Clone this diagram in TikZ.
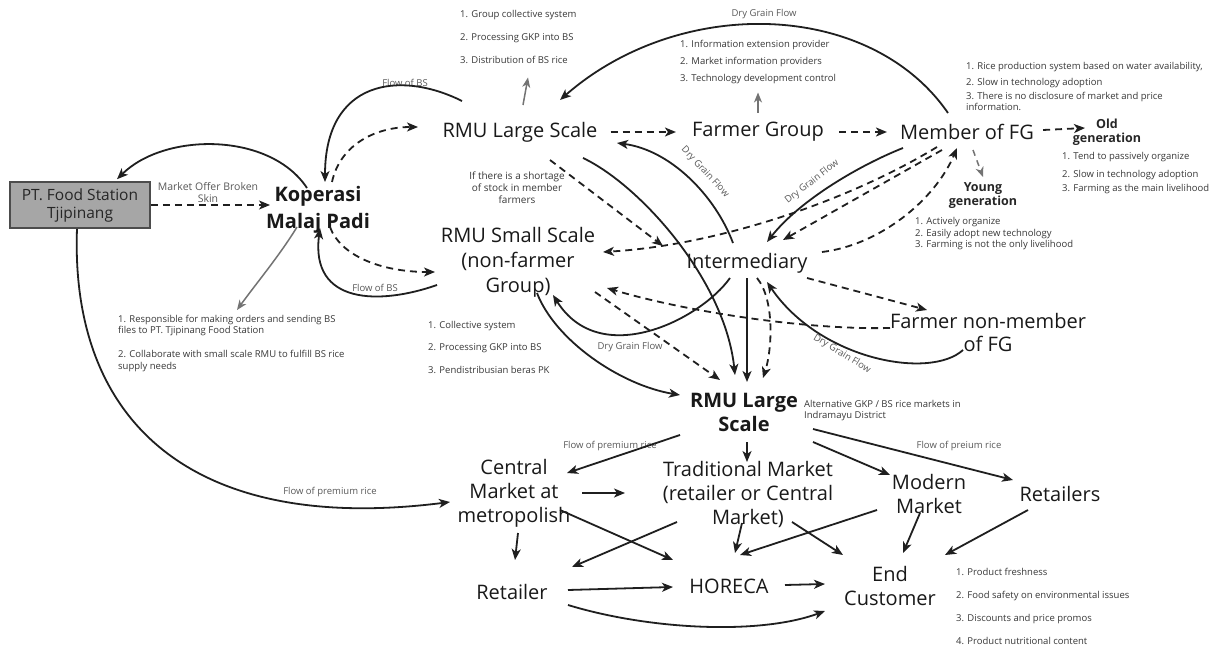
\documentclass[tikz,border=0pt]{standalone}
\usepackage{fontspec}
\setmainfont{Open Sans}
\usetikzlibrary{arrows.meta,calc}
\begin{document}
\begin{tikzpicture}[x=1pt,y=-1pt,
  ink/.style={line width=1.8pt, draw=black!88, -{Stealth[length=11pt,width=9pt,inset=3pt]}},
  dline/.style={ink, dash pattern=on 7pt off 5pt},
  gline/.style={line width=1.5pt, draw=black!55, -{Stealth[length=10pt,width=8pt,inset=3pt]}},
  big/.style={font=\fontsize{20}{24}\selectfont, align=center, inner sep=1pt, text=black!90},
  bigb/.style={big, font=\fontsize{20}{24}\selectfont\bfseries},
  gen/.style={font=\fontsize{12.5}{14}\selectfont\bfseries, align=center, inner sep=0pt, text=black!85},
  note/.style={font=\fontsize{9.5}{11}\selectfont, text=black!78, inner sep=0pt, anchor=base west,
               text height=6.5pt, text depth=1.5pt},
  lab/.style={font=\fontsize{9.5}{11}\selectfont, text=black!65, inner sep=1pt}]
\useasboundingbox (0,0) rectangle (1219,650);
\fill[white] (0,0) rectangle (1219,650);

% ---- actors ----
\node[draw=black!70, line width=1.6pt, fill=black!35, minimum width=140pt, minimum height=46pt,
      font=\fontsize{15.5}{18}\selectfont, align=center, text=black!85, inner sep=1pt] (pt) at (80,205) {PT. Food Station\\Tjipinang};
\node[bigb, font=\fontsize{20}{27}\selectfont\bfseries] (kop) at (318,210) {Koperasi\\Malaj Padi};
\node[big] (rmuL) at (520,132) {RMU Large Scale};
\node[big] (fg) at (758,132) {Farmer Group};
\node[big] (mem) at (967,132) {Member of FG};
\node[gen] (old) at (1107,132) {Old\\generation};
\node[gen] (young) at (983,196) {Young\\generation};
\node[big, font=\fontsize{20}{25}\selectfont] (rmuS) at (518,262) {RMU Small Scale\\(non-farmer\\Group)};
\node[big] (inter) at (747,263) {Intermediary};
\node[big, font=\fontsize{20}{23}\selectfont] (fnm) at (988,332) {Farmer non-member\\of FG};
\node[bigb] (rmuB) at (744,412) {RMU Large\\Scale};
\node[big] (cm) at (514,493) {Central\\Market at\\metropolish};
\node[big] (tm) at (748,494) {Traditional Market\\(retailer or Central\\Market)};
\node[big] (mm) at (929,494) {Modern\\Market};
\node[big] (ret) at (1060,494) {Retailers};
\node[big] (retl) at (512,592) {Retailer};
\node[big] (hor) at (729,586) {HORECA};
\node[big] (cust) at (890,586) {End\\Customer};

% ---- attribute lists ----
\foreach \yy/\txt [count=\i] in {14/{1. Group collective system}, 37/{2. Processing GKP into BS}, 60/{3. Distribution of BS rice}}
  \node[note] (rl\i) at (460,\yy+3.5) {\txt};
\foreach \yy/\txt [count=\i] in {44/{1. Information extension provider}, 61/{2. Market information providers}, 78/{3. Technology development control}}
  \node[note] (fl\i) at (680,\yy+3.5) {\txt};
\foreach \yy/\txt [count=\i] in {66/{1. Rice production system based on water availability,}, 82/{2. Slow in technology adoption}, 96/{3. There is no disclosure of market and price}, 107/{information.}}
  \node[note] (ml\i) at (966,\yy+3.5) {\txt};
\foreach \yy/\txt [count=\i] in {156/{1. Tend to passively organize}, 174/{2. Slow in technology adoption}, 188/{3. Farming as the main livelihood}}
  \node[note] (ol\i) at (1062,\yy+3.5) {\txt};
\foreach \yy/\txt [count=\i] in {221/{1. Actively organize}, 233/{2. Easily adopt new technology}, 244/{3. Farming is not the only livelihood}}
  \node[note] (yl\i) at (915,\yy+3.5) {\txt};
\foreach \yy/\txt [count=\i] in {325/{1. Collective system}, 347/{2. Processing GKP into BS}, 370/{3. Pendistribusian beras PK}}
  \node[note] (sl\i) at (428,\yy+3.5) {\txt};
\foreach \yy/\txt [count=\i] in {319/{1. Responsible for making orders and sending BS}, 330/{files to PT. Tjipinang Food Station}, 354/{2. Collaborate with small scale RMU to fulfill BS rice}, 366/{supply needs}}
  \node[note] (ll\i) at (118,\yy+3.5) {\txt};
\foreach \yy/\txt [count=\i] in {572/{1. Product freshness}, 595/{2. Food safety on environmental issues}, 618/{3. Discounts and price promos}, 641/{4. Product nutritional content}}
  \node[note] (el\i) at (956,\yy+3.5) {\txt};

% ---- flow labels ----
\node[lab] (lDGtop) at (764,14) {Dry Grain Flow};
\node[lab] (lBS1) at (405,83) {Flow of BS};
\node[lab] (lBS2) at (375,288) {Flow of BS};
\node[lab, font=\fontsize{10.5}{12}\selectfont, align=center] (lMO) at (208,193) {Market Offer Broken\\Skin};
\node[lab, font=\fontsize{10}{12}\selectfont, align=center, text=black!78] (lSh) at (517,188) {If there is a shortage\\of stock in member\\farmers};
\node[lab, rotate=-47, inner sep=0pt] (lDG1) at (705,172) {Dry Grain Flow};
\node[lab, rotate=38, inner sep=0pt] (lDG2) at (812,182) {Dry Grain Flow};
\node[lab] (lDG3) at (630,347) {Dry Grain Flow};
\node[lab, rotate=-31, inner sep=0pt] (lDG4) at (842,354) {Dry Grain Flow};
\node[lab, align=left, anchor=west, text=black!78, inner sep=0pt] (lAlt) at (804,411) {Alternative GKP / BS rice markets in\\Indramayu District};
\node[lab] (lP1) at (330,492) {Flow of premium rice};
\node[lab] (lP2) at (610,446) {Flow of premium rice};
\node[lab] (lP3) at (959,446) {Flow of preium rice};

% ---- upper network ----
\draw[ink] ($(kop)+(-11,-22)$) .. controls (270,132) and (165,132) .. ($(pt.north)+(37,-2)$);
\draw[dline] (pt.east) -- ($(kop)+(-48,-5)$);
\draw[ink] ($(rmuL)+(-58,-31)$) .. controls (400,70) and (325,80) .. ($(kop)+(7,-28)$);
\draw[dline] ($(kop)+(14,-28)$) .. controls (340,145) and (375,127) .. ($(rmuL)+(-102,-5)$);
\draw[dline] ($(kop)+(12,17)$) .. controls (340,255) and (380,272) .. ($(rmuS)+(-83,10)$);
\draw[ink] ($(rmuS)+(-81,23)$) .. controls (380,305) and (310,305) .. ($(kop)+(2,18)$);
\draw[gline] ($(kop)+(-21,17)$) .. controls (280,255) and (255,285) .. ($(ll1.west)+(119,-10)$);
\draw[ink] ($(pt.south)+(-3,0)$) .. controls (70,420) and (190,535) .. ($(cm)+(-64,9)$);
\draw[gline] ($(rmuL)+(3,-27)$) -- ($(rl3.base west)+(68,14)$);
\draw[gline] ($(fg)+(0,-19)$) -- ($(fl3.base west)+(78,11)$);
\draw[dline] ($(rmuL.east)+(12,0)$) -- ($(fg.west)+(-15,0)$);
\draw[dline] ($(fg.east)+(14,0)$) -- ($(mem.west)+(-12,0)$);
\draw[dline] ($(mem.east)+(8,-2)$) -- ($(old)+(-22,-4)$);
\draw[gline, dash pattern=on 6pt off 5pt] ($(mem)+(6,18)$) -- ($(young)+(0,-19)$);
\draw[ink] ($(mem)+(-19,-19)$) .. controls (870,0) and (680,-5) .. ($(rmuL)+(40,-32)$);
\draw[ink] ($(inter)+(-14,-20)$) .. controls (715,195) and (670,150) .. ($(rmuL)+(97,11)$);
\draw[ink] ($(rmuL)+(63,26)$) .. controls (640,185) and (725,280) .. ($(rmuB)+(-9,-37)$);
\draw[dline] ($(rmuL)+(30,28)$) -- ($(inter)+(-84,-17)$);
\draw[ink] ($(mem)+(-64,16)$) .. controls (860,165) and (800,200) .. ($(inter)+(20,-21)$);
\draw[dline] ($(mem)+(-25,18)$) -- ($(inter)+(36,-23)$);
\draw[dline] ($(mem)+(-30,15)$) .. controls (850,200) and (720,245) .. ($(rmuS)+(85,-10)$);
\draw[dline] ($(inter)+(75,-11)$) .. controls (880,245) and (935,200) .. ($(mem)+(-10,16)$);
\draw[dline] ($(inter)+(60,15)$) -- ($(fnm)+(-61,-22)$);
\draw[dline] ($(fnm)+(-98,-4)$) .. controls (800,330) and (680,310) .. ($(rmuS)+(89,26)$);
\draw[ink] ($(fnm)+(-25,18)$) .. controls (930,380) and (820,360) .. ($(inter)+(20,19)$);
\draw[ink] ($(inter)+(-17,15)$) .. controls (700,320) and (600,370) .. ($(rmuS)+(35,33)$);
\draw[ink] ($(rmuS)+(19,31)$) .. controls (555,340) and (620,385) .. ($(rmuB)+(-64,-17)$);
\draw[dline] ($(rmuS)+(77,30)$) -- ($(rmuB)+(-24,-32)$);
\draw[ink] ($(inter)+(0,15)$) -- ($(rmuB)+(3,-30)$);
\draw[dline] ($(inter)+(10,15)$) .. controls (775,300) and (772,350) .. ($(rmuB)+(19,-34)$);

% ---- market channels ----
\draw[ink] ($(rmuB)+(-64,23)$) -- ($(cm)+(53,-20)$);
\draw[ink] ($(rmuB)+(3,30)$) -- ($(tm)+(-1,-32)$);
\draw[ink] ($(rmuB)+(69,30)$) -- ($(mm)+(-39,-19)$);
\draw[ink] ($(rmuB)+(69,17)$) -- ($(ret)+(-47,-14)$);
\draw[ink] ($(cm)+(68,0)$) -- ($(tm)+(-123,-1)$);
\draw[ink] ($(cm)+(4,40)$) -- ($(retl)+(3,-32)$);
\draw[ink] ($(cm)+(46,17)$) -- ($(hor)+(-56,-26)$);
\draw[ink] ($(tm)+(-71,28)$) -- ($(retl)+(60,-25)$);
\draw[ink] ($(tm)+(-6,29)$) -- ($(hor)+(6,-33)$);
\draw[ink] ($(mm)+(-52,16)$) -- ($(hor)+(11,-31)$);
\draw[ink] ($(tm)+(44,28)$) -- ($(cust)+(-47,-31)$);
\draw[ink] ($(mm)+(-9,19)$) -- ($(cust)+(13,-33)$);
\draw[ink] ($(ret)+(-32,16)$) -- ($(cust)+(55,-31)$);
\draw[ink] ($(retl)+(56,-2)$) -- ($(hor)+(-56,1)$);
\draw[ink] ($(hor)+(56,-1)$) -- ($(cust)+(-65,-2)$);
\draw[ink] ($(retl)+(56,13)$) .. controls (650,630) and (760,635) .. ($(cust)+(-65,25)$);
\end{tikzpicture}
\end{document}
